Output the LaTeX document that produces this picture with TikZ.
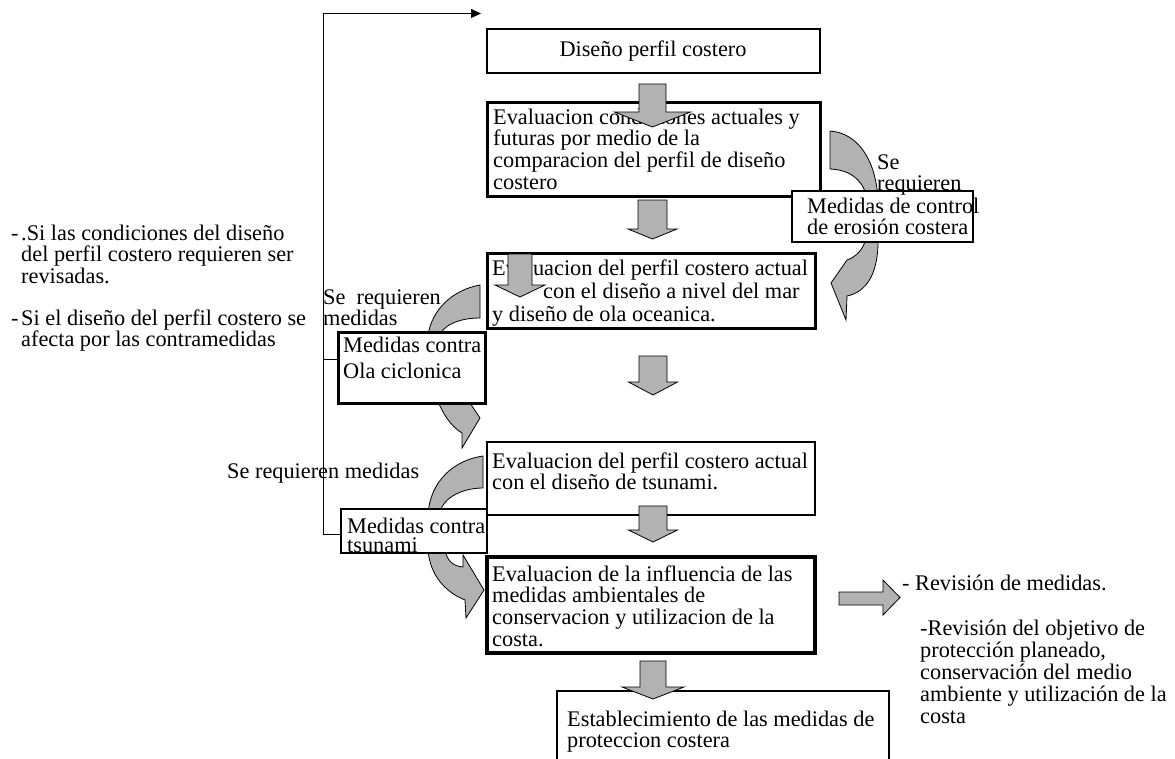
\documentclass[tikz,border=0pt]{standalone}
\usepackage{fontspec}
\setmainfont{Liberation Serif}
\usetikzlibrary{arrows.meta}

% strut that fixes the first baseline 17pt below a label's top edge
\newcommand\fl{\rule{0pt}{17pt}}

% downward block arrow: centre x, top, neck, tip, shaft half-width, head half-width
\newcommand\dnblock[6]{%
  \draw[blockarrow] ({#1-#5},#2) -- ({#1+#5},#2) -- ({#1+#5},#3) -- ({#1+#6},#3)
    -- (#1,#4) -- ({#1-#6},#3) -- ({#1-#5},#3) -- cycle;}

\tikzset{
  panel/.style={draw=black, fill=white, inner sep=0pt, line width=#1},
  lbl/.style={inner sep=0pt, anchor=north west, align=left,
    font={\fontsize{22.3}{21.7}\selectfont\lineskiplimit=-50pt\relax}},
  blockarrow/.style={draw=black, fill=gray!60, line width=0.8pt, line join=miter},
  conn/.style={draw=black, line width=1pt},
}

\begin{document}
\begin{tikzpicture}[x=1pt, y=-1pt]
\useasboundingbox (0,0) rectangle (1175,758);
\clip (0,0) rectangle (1175,758);

% curved return arrows
\draw[blockarrow] (830,131) .. controls (858,133) and (876,160) .. (878,200) -- (878,245)
  .. controls (877,275) and (866,292) .. (847,296) -- (846,320) -- (831,283) -- (847,260)
  .. controls (862,255) and (869,240) .. (869,215) .. controls (869,185) and (855,170) .. (830,169) -- cycle;
\draw[blockarrow] (480,285) .. controls (452,290) and (432,310) .. (428,335)
  .. controls (426,380) and (440,420) .. (462,433) -- (462,448) -- (480,418) -- (470,403)
  .. controls (450,395) and (437,370) .. (437,345) .. controls (437,328) and (455,318) .. (480,318) -- cycle;
\draw[blockarrow] (483,456) .. controls (455,460) and (430,480) .. (428,515) -- (428,550)
  .. controls (430,575) and (445,592) .. (465,600) -- (466,618) -- (484,590) -- (463,555) -- (463,567)
  .. controls (452,566) and (447,560) .. (445,550) -- (440,515)
  .. controls (440,500) and (460,488) .. (483,488) -- cycle;

% main process boxes
\node[panel=1.2pt, minimum width=333pt, minimum height=44pt] (b1) at (653.5,51) {};
\node[panel=3pt, minimum width=333pt, minimum height=94pt] (b2) at (653.5,149) {};
\node[panel=3pt, minimum width=328pt, minimum height=75pt] (b3) at (651,290.5) {};
\node[panel=1.5pt, minimum width=328pt, minimum height=73pt] (b4) at (651,478.5) {};
\node[panel=3.5pt, minimum width=328pt, minimum height=96pt] (b5) at (651,605) {};
\node[panel=1.5pt, minimum width=332pt, minimum height=84pt] (b6) at (723,733) {};

% side measure boxes
\node[panel=2pt, minimum width=181pt, minimum height=51pt] (ero) at (882.5,216.5) {};
\node[panel=3pt, minimum width=147pt, minimum height=71pt] (cyc) at (411.5,367.5) {};
\node[panel=2pt, minimum width=146pt, minimum height=44pt] (tsu) at (414,531) {};

% texts
\node[lbl, anchor=north] (t1) at (653,39) {\fl Diseño perfil costero};
\node[lbl] (t2) at (493,107) {\fl Evaluacion condiciones actuales y\\futuras por medio de la\\comparacion del perfil de diseño\\costero};
\node[lbl] (t3) at (492,258) {\fl Evaluacion del perfil costero actual\\[1.3pt]\hspace*{51pt}con el diseño a nivel del mar\\[1.3pt]y diseño de ola oceanica.};
\node[lbl] (t4) at (492,451) {\fl Evaluacion del perfil costero actual\\con el diseño de tsunami.};
\node[lbl] (t5) at (492,564) {\fl Evaluacion de la influencia de las\\medidas ambientales de\\conservacion y utilizacion de la\\costa.};
\node[lbl] (t6) at (567,709) {\fl Establecimiento de las medidas de\\proteccion costera};
\node[lbl] (te) at (807,196) {\fl Medidas de control\\de erosión costera};
\node[lbl] (tse) at (877,152) {\fl Se\\requieren};
\node[lbl] (tc) at (343,335) {\fl Medidas contra\\[4.3pt]Ola ciclonica};
\node[lbl] (tcs) at (323,287) {\fl Se\ \ requieren\\[-0.7pt]medidas};
\node[lbl] (tt) at (347,516) {\fl Medidas contra\\[-2.7pt]tsunami};
\node[lbl] (tts) at (227,461) {\fl Se requieren medidas};
\node[lbl] (tl1) at (11,223) {\fl\makebox[10pt][l]{-}.Si las condiciones del diseño\\\hspace*{10pt}del perfil costero requieren ser\\\hspace*{10pt}revisadas.};
\node[lbl] (tl2) at (11,308) {\fl\makebox[10pt][l]{-}Si el diseño del perfil costero se\\\hspace*{10pt}afecta por las contramedidas};
\node[lbl] (tr1) at (902,573) {\fl - Revisión de medidas.};
\node[lbl] (tr2) at (920,618) {\fl -Revisión del objetivo de\\[0.3pt]protección planeado,\\[0.3pt]conservación del medio\\[0.3pt]ambiente y utilización de la\\[0.3pt]costa};

% block arrows between the steps
\dnblock{652.5}{84}{112}{127}{13.5}{38}
\dnblock{652.5}{200}{229}{239}{14.5}{24.5}
\dnblock{653}{356}{382}{395}{14}{24.5}
\dnblock{653}{506}{530}{542}{14}{24.5}
\dnblock{653}{661}{687}{699}{13}{31}
\dnblock{520}{254}{285}{297}{12}{25}
\draw[blockarrow] (839,592) -- (883,592) -- (883,580) -- (900,597.5) -- (883,615) -- (883,605) -- (839,605) -- cycle;

% feedback line back to the design profile
\coordinate (bend) at (323.5,13.5);
\coordinate (entry) at (481,13.5);
\draw[conn, -{Triangle[length=10pt,width=9pt]}] ([yshift=-3pt]tsu.west) -| (bend) -- (entry);
\draw[conn] ([yshift=8.5pt]cyc.west) -- ([yshift=8.5pt]cyc.west -| bend);
\end{tikzpicture}
\end{document}
